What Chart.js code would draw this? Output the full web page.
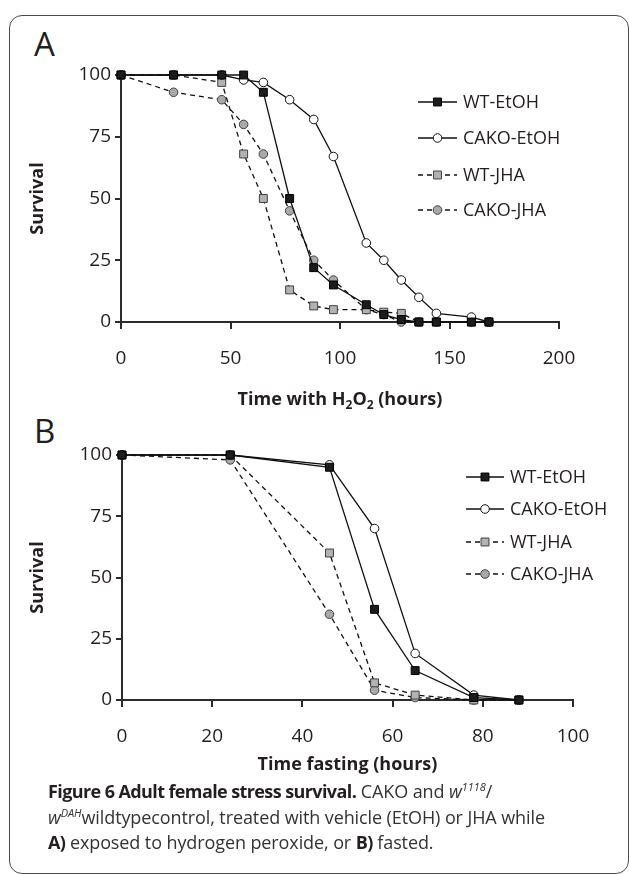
<!DOCTYPE html>
<html>
<head>
<meta charset="utf-8">
<script src="https://cdn.jsdelivr.net/npm/chart.js"></script>
<style>
  body { margin: 0; width: 629px; height: 874px; position: relative; overflow: hidden; background: #fff;
         font-family: "Open Sans", sans-serif; color: #231f20; }
  .frame { position: absolute; left: 9px; top: 15px; width: 620px; height: 859px;
           border: 1.5px solid #4a4a4a; border-radius: 13px; box-sizing: border-box; }
  .panel { position: absolute; left: 34px; font-size: 33px; line-height: 1; }
  canvas { position: absolute; left: 0; }
  .xtitle { position: absolute; font-weight: bold; font-size: 18px; white-space: nowrap; transform: translateX(-50%); }
  .xtitle sub { font-size: 12px; vertical-align: -4px; line-height: 0; }
  .caption { position: absolute; left: 48px; top: 779px; font-size: 18px; line-height: 25.5px; color: #333;
             letter-spacing: -0.1px; white-space: nowrap; }
  .caption b { color: #231f20; letter-spacing: -0.6px; }
  .caption sup { font-size: 11px; font-style: italic; vertical-align: 7px; line-height: 0; }
</style>
</head>
<body>
<div class="frame"></div>
<div class="panel" style="top:27px">A</div>
<div class="panel" style="top:414px">B</div>
<canvas id="chartA" width="629" height="420" style="top:0"></canvas>
<canvas id="chartB" width="629" height="380" style="top:420px"></canvas>
<div class="xtitle" style="left:340px; top:386px">Time with H<sub>2</sub>O<sub>2</sub> (hours)</div>
<div class="caption">
  <b>Figure 6 Adult female stress survival.</b> CAKO and <i>w</i><sup>1118</sup>/<br>
  <i>w</i><sup>DAH</sup>wildtypecontrol, treated with vehicle (EtOH) or JHA while<br>
  <b>A)</b> exposed to hydrogen peroxide, or <b>B)</b> fasted.
</div>
<script>
// Panel A: time with H2O2 (hours)
const timesA = [0, 24, 46, 56, 65, 77, 88, 97, 112, 120, 128, 136, 144, 160, 168];
const wtEtohA   = [100, 100, 100, 100, 93, 50, 22, 15, 7, 3, 1, 0, 0, 0, 0];
const cakoEtohA = [100, 100, 100, 98, 97, 90, 82, 67, 32, 25, 17, 10, 3.5, 2, 0];
const wtJhaA    = [100, 100, 97, 68, 50, 13, 6.5, 5, 5, 4, 3.5, 0, 0, 0, 0];
const cakoJhaA  = [100, 93, 90, 80, 68, 45, 25, 17, 5, 3, 0, 0, 0, 0, 0];

// Panel B: time fasting (hours)
const timesB = [0, 24, 46, 56, 65, 78, 88];
const wtEtohB   = [100, 100, 95, 37, 12, 1, 0];
const cakoEtohB = [100, 100, 96, 70, 19, 2, 0];
const wtJhaB    = [100, 100, 60, 7, 2, 0, 0];
const cakoJhaB  = [100, 98, 35, 4, 1, 0, 0];

const seriesNames = ['WT-EtOH', 'CAKO-EtOH', 'WT-JHA', 'CAKO-JHA'];
const yTicks = [0, 25, 50, 75, 100];

const textColor = '#231f20';
const axisColor = '#2b2b2b';
const FONT = '"Open Sans", sans-serif';

// look of each series: black square, white circle, grey square, grey circle
const looks = [
  { pointStyle: 'rect',   pointRadius: 5.6, pointBackgroundColor: '#1c1c1c', pointBorderColor: '#000', borderDash: [] },
  { pointStyle: 'circle', pointRadius: 4.3, pointBackgroundColor: '#ffffff', pointBorderColor: '#111', borderDash: [] },
  { pointStyle: 'rect',   pointRadius: 5.6, pointBackgroundColor: '#b2b2b2', pointBorderColor: '#404040', borderDash: [5, 4] },
  { pointStyle: 'circle', pointRadius: 4.3, pointBackgroundColor: '#a9a9a9', pointBorderColor: '#404040', borderDash: [5, 4] }
];

function makeDatasets(times, lists) {
  return lists.map((vals, i) => Object.assign({
    label: seriesNames[i],
    data: times.map((t, j) => ({ x: t, y: vals[j] })),
    borderColor: '#111',
    borderWidth: 1.3,
    pointBorderWidth: 1,
    pointHoverRadius: 5,
    tension: 0,
    clip: false
  }, looks[i]));
}

// legend drawn as line sample + marker + label, like the original
const sampleLegend = {
  id: 'sampleLegend',
  afterDraw(chart, args, opts) {
    const ctx = chart.ctx;
    ctx.save();
    chart.data.datasets.forEach((ds, i) => {
      const y = opts.ys[i];
      const x1 = opts.x, x2 = opts.x + opts.len, xm = (x1 + x2) / 2;
      ctx.strokeStyle = ds.borderColor;
      ctx.lineWidth = ds.borderWidth;
      ctx.setLineDash(ds.borderDash);
      ctx.beginPath();
      ctx.moveTo(x1, y); ctx.lineTo(x2, y);
      ctx.stroke();
      ctx.setLineDash([]);
      ctx.fillStyle = ds.pointBackgroundColor;
      ctx.strokeStyle = ds.pointBorderColor;
      ctx.lineWidth = 1;
      ctx.beginPath();
      if (ds.pointStyle === 'rect') {
        const s = ds.pointRadius * Math.SQRT1_2;
        ctx.rect(xm - s, y - s, 2 * s, 2 * s);
      } else {
        ctx.arc(xm, y, ds.pointRadius, 0, Math.PI * 2);
      }
      ctx.fill(); ctx.stroke();
      ctx.fillStyle = textColor;
      ctx.font = '18px ' + FONT;
      ctx.textBaseline = 'middle';
      ctx.fillText(ds.label, opts.textX, y + 1);
    });
    ctx.restore();
  }
};

function makeChart(id, times, lists, cfg) {
  return new Chart(document.getElementById(id), {
    type: 'line',
    data: { datasets: makeDatasets(times, lists) },
    plugins: [sampleLegend],
    options: {
      responsive: false,
      animation: false,
      devicePixelRatio: 1,
      layout: { padding: cfg.padding },
      plugins: {
        legend: { display: false },
        tooltip: { enabled: false },
        sampleLegend: cfg.legend
      },
      scales: {
        x: {
          type: 'linear',
          min: 0, max: cfg.xMax,
          afterFit: s => { s.height = cfg.xHeight; },
          ticks: { stepSize: cfg.xStep, color: textColor, font: { family: FONT, size: 19 }, padding: 18, maxRotation: 0 },
          grid: { drawOnChartArea: false, drawTicks: true, tickLength: 7, color: axisColor, lineWidth: 2 },
          border: { color: axisColor, width: 2 },
          title: cfg.xTitle
        },
        y: {
          min: 0, max: 100,
          afterFit: s => { s.width = cfg.yWidth; },
          afterBuildTicks: s => { s.ticks = yTicks.map(v => ({ value: v })); },
          ticks: { color: textColor, font: { family: FONT, size: 19 }, padding: 4 },
          grid: { drawOnChartArea: false, drawTicks: true, tickLength: 6, color: axisColor, lineWidth: 2 },
          border: { color: axisColor, width: 2 },
          title: { display: true, text: 'Survival', color: textColor,
                   font: { family: FONT, size: 18, weight: 'bold' }, padding: { top: 27 } }
        }
      }
    }
  });
}

makeChart('chartA', timesA,
  [wtEtohA, cakoEtohA, wtJhaA, cakoJhaA],
  {
    padding: { top: 75, right: 70, left: 0, bottom: 0 },
    xMax: 200, xStep: 50, xHeight: 98, yWidth: 121,
    xTitle: { display: false },
    legend: { x: 418, len: 39, textX: 463, ys: [102, 138, 175, 210] }
  });

makeChart('chartB', timesB,
  [wtEtohB, cakoEtohB, wtJhaB, cakoJhaB],
  {
    padding: { top: 35, right: 56, left: 0, bottom: 0 },
    xMax: 100, xStep: 20, xHeight: 100, yWidth: 122,
    xTitle: { display: true, text: 'Time fasting (hours)', color: textColor,
              font: { family: FONT, size: 18, weight: 'bold' }, padding: { bottom: 24 } },
    legend: { x: 466, len: 38, textX: 510, ys: [57, 89, 122, 154] }
  });
</script>
</body>
</html>
